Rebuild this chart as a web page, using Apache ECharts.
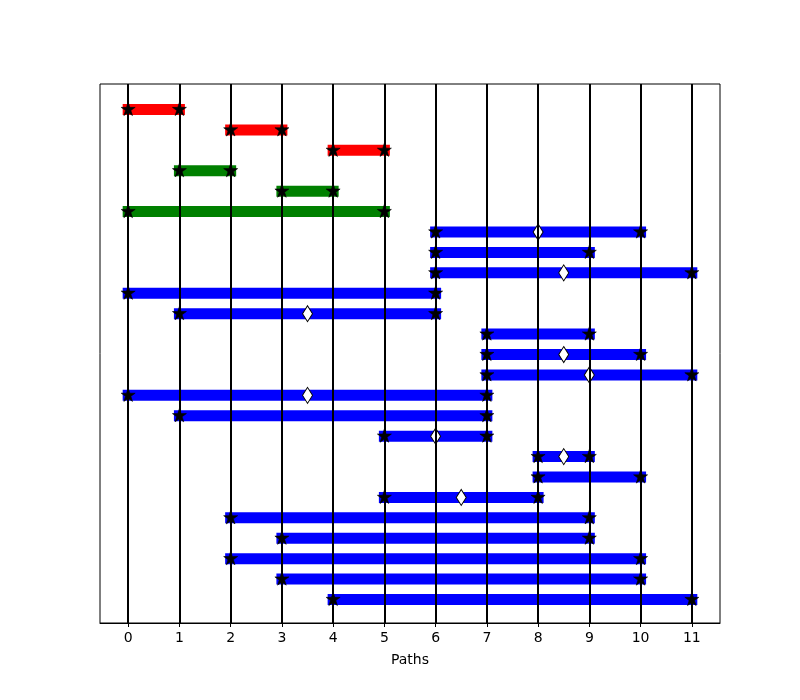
<!DOCTYPE html>
<html>
<head>
<meta charset="utf-8">
<script src="https://cdn.jsdelivr.net/npm/echarts@6/dist/echarts.min.js"></script>
<style>html,body{margin:0;padding:0;background:#fff;}#c{width:800px;height:700px;}</style>
</head>
<body>
<div id="c"></div>
<script>
// Rows from top to bottom
var rowStart = [0, 2, 4, 1, 3, 0, 6, 6, 6, 0, 1, 7, 7, 7, 0, 1, 5, 8, 8, 5, 2, 3, 2, 3, 4];
var rowEnd   = [1, 3, 5, 2, 4, 5, 10, 9, 11, 6, 6, 9, 10, 11, 7, 7, 7, 9, 10, 8, 9, 9, 10, 10, 11];
var rowGroup = ['red','red','red','green','green','green',
  'blue','blue','blue','blue','blue','blue','blue','blue','blue','blue','blue','blue','blue','blue','blue','blue','blue','blue','blue'];
var diamondX = [null, null, null, null, null, null, 8, null, 8.5, null, 3.5, null, 8.5, 9, 3.5, null, 6, 8.5, null, 6.5, null, null, null, null, null];
var pathTicks = [0, 1, 2, 3, 4, 5, 6, 7, 8, 9, 10, 11];
var axisName = 'Paths';

var groupColor = {red: '#ff0000', green: '#008000', blue: '#0000ff'};
var starPath = 'path://M0,-1 L0.2245,-0.309 L0.951,-0.309 L0.363,0.118 L0.588,0.809 L0,0.382 L-0.588,0.809 L-0.363,0.118 L-0.951,-0.309 L-0.2245,-0.309 Z';

var series = [];
series.push({
  type: 'scatter', data: [], silent: true, z: 1,
  markLine: {
    silent: true, symbol: ['none', 'none'], animation: false,
    label: {show: false},
    lineStyle: {color: '#000', width: 2, type: 'solid'},
    data: pathTicks.map(function (v) { return {xAxis: v}; })
  }
});
for (var i = 0; i < rowStart.length; i++) {
  series.push({
    type: 'line', z: 2, showSymbol: false, silent: true,
    data: [[rowStart[i], i], [rowEnd[i], i]],
    lineStyle: {color: groupColor[rowGroup[i]], width: 11, cap: 'square'}
  });
}
var diamonds = [];
var stars = [];
for (var j = 0; j < rowStart.length; j++) {
  if (diamondX[j] !== null) diamonds.push([diamondX[j], j]);
  stars.push([rowStart[j], j]);
  stars.push([rowEnd[j], j]);
}
series.push({
  type: 'scatter', z: 3, silent: true, data: diamonds,
  symbol: 'diamond', symbolSize: [10, 16],
  itemStyle: {color: '#fff', borderColor: '#000', borderWidth: 1, opacity: 1}
});
series.push({
  type: 'scatter', z: 4, silent: true, data: stars,
  symbol: starPath, symbolSize: [14, 13.3], symbolOffset: [0, -0.6],
  itemStyle: {color: '#000', borderColor: '#000', borderWidth: 0.6, opacity: 1}
});

var chart = echarts.init(document.getElementById('c'), null, {renderer: 'canvas'});
chart.setOption({
  animation: false,
  backgroundColor: '#fff',
  grid: {left: 100, right: 80, top: 84, bottom: 77, show: true, borderColor: '#000', borderWidth: 1, backgroundColor: 'transparent'},
  xAxis: {
    type: 'value', min: -0.55, max: 11.55,
    name: axisName, nameLocation: 'middle', nameGap: 30,
    nameTextStyle: {color: '#000', fontSize: 14, fontFamily: 'DejaVu Sans'},
    axisLine: {show: true, onZero: false, lineStyle: {color: '#000', width: 1}},
    axisTick: {show: true, customValues: pathTicks, length: 4, lineStyle: {color: '#000', width: 1}},
    axisLabel: {show: true, customValues: pathTicks, margin: 8, color: '#000', fontSize: 14, fontFamily: 'DejaVu Sans'},
    splitLine: {show: false}
  },
  yAxis: {
    type: 'value', inverse: true, min: -1.25, max: 25.15, show: false
  },
  series: series
});
</script>
</body>
</html>
